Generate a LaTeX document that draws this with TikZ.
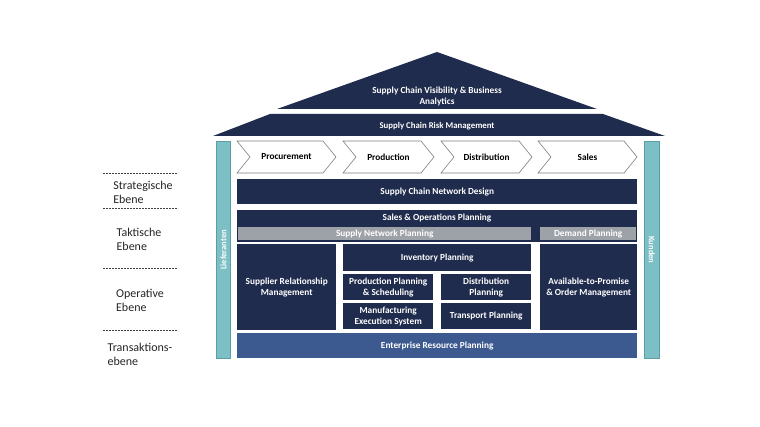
\documentclass[tikz,border=0pt]{standalone}
\usepackage{fontspec}
\setmainfont{Carlito}
\definecolor{navy}{HTML}{202C4D}
\definecolor{erpblue}{HTML}{3C5A8F}
\definecolor{tealfill}{HTML}{7CC0C5}
\definecolor{tealline}{HTML}{5B9EA5}
\definecolor{graybar}{HTML}{9DA1A8}
\definecolor{chevline}{HTML}{7F7F7F}
\definecolor{dashline}{HTML}{404040}
\newcommand\bx[7]{%
  \node[#6, minimum width={#4pt-#2pt}, minimum height={#5pt-#3pt}, anchor=north west] (#1) at (#2,#3) {#7};}
\begin{document}
\begin{tikzpicture}[x=1pt,y=-1pt,
  boxfont/.style={font=\bfseries\fontsize{9.3}{11}\selectfont},
  navybox/.style={fill=navy, text=white, boxfont, align=center, inner sep=0pt},
  erpbox/.style={fill=erpblue, text=white, boxfont, align=center, inner sep=0pt},
  graybox/.style={fill=graybar, text=white, boxfont, align=center, inner sep=0pt},
  pillar/.style={fill=tealfill, draw=tealline, line width=0.8pt, inner sep=0pt},
  pillartext/.style={text=white, font=\bfseries\fontsize{8.5}{10}\selectfont, inner sep=0pt},
  chev/.style={fill=white, draw=chevline, line width=0.6pt},
  chevtext/.style={text=black, boxfont, inner sep=0pt},
  rooftext/.style={text=white, boxfont, align=center, inner sep=0pt},
  level/.style={font=\fontsize{12}{14}\selectfont, align=left, inner sep=0pt, text=black!85},
  sep/.style={draw=dashline, dash pattern=on 2pt off 1pt, line width=0.6pt}]
\useasboundingbox[fill=white] (0,0) rectangle (760,427);
% roof
\fill[navy] (277,109) -- (437,52) -- (597,109) -- cycle;
\node[rooftext] (roof) at (437,96) {Supply Chain Visibility \& Business\\Analytics};
\fill[navy] (213,136) -- (270,114) -- (603,114) -- (665,136) -- cycle;
\node[rooftext, font=\bfseries\fontsize{8.8}{10}\selectfont] (risk) at (437,126) {Supply Chain Risk Management};
% pillars
\bx{lief}{216}{141}{230}{358}{pillar}{}
\bx{kund}{644}{141}{659}{358}{pillar}{}
\node[pillartext, rotate=90] (liefT) at (lief.center) {Lieferanten};
\node[pillartext, rotate=-90] (kundT) at (kund.center) {Kunden};
% chevrons
\draw[chev] (237,141) -- (323,141) -- (336,157) -- (323,173) -- (237,173) -- (250,157) -- cycle;
\node[chevtext] (proc) at (286.5,157) {Procurement};
\draw[chev] (343,141) -- (421,141) -- (434,157) -- (421,173) -- (343,173) -- (356,157) -- cycle;
\node[chevtext] (prod) at (388.5,157) {Production};
\draw[chev] (441,141) -- (519,141) -- (532,157) -- (519,173) -- (441,173) -- (454,157) -- cycle;
\node[chevtext] (dist) at (486.5,157) {Distribution};
\draw[chev] (538,141) -- (624,141) -- (637,157) -- (624,173) -- (538,173) -- (551,157) -- cycle;
\node[chevtext] (sales) at (587.5,157) {Sales};
% planning boxes
\bx{scnd}{237}{179}{637}{204}{navybox}{Supply Chain Network Design}
\bx{sop}{237}{210}{637}{242}{navybox}{}
\node[rooftext] (sopT) at (437,218) {Sales \& Operations Planning};
\bx{snp}{238}{227}{531}{240}{graybox}{Supply Network Planning}
\bx{dp}{540}{227}{636}{240}{graybox}{Demand Planning}
\bx{srm}{237}{244}{336}{330}{navybox}{Supplier Relationship\\Management}
\bx{inv}{343}{244}{531}{271}{navybox}{Inventory Planning}
\bx{pps}{343}{274}{433}{300}{navybox}{Production Planning\\\& Scheduling}
\bx{dpl}{441}{274}{531}{300}{navybox}{Distribution\\Planning}
\bx{mes}{343}{303}{433}{329}{navybox}{Manufacturing\\Execution System}
\bx{tp}{441}{303}{531}{329}{navybox}{Transport Planning}
\bx{atp}{540}{244}{637}{330}{navybox}{Available-to-Promise\\\& Order Management}
\bx{erp}{237}{333}{637}{358}{erpbox}{Enterprise Resource Planning}
% levels
\coordinate (s1a) at (103,173); \coordinate (s1b) at (178,173);
\coordinate (s2a) at (103,208); \coordinate (s2b) at (178,208);
\coordinate (s3a) at (103,268); \coordinate (s3b) at (178,268);
\coordinate (s4a) at (103,330); \coordinate (s4b) at (178,330);
\draw[sep] (s1a) -- (s1b);
\draw[sep] (s2a) -- (s2b);
\draw[sep] (s3a) -- (s3b);
\draw[sep] (s4a) -- (s4b);
\node[level] (strat) at (143,192) {Strategische\\Ebene};
\node[level] (takt) at (139,239) {Taktische\\Ebene};
\node[level] (oper) at (140,300) {Operative\\Ebene};
\node[level] (trans) at (140,354) {Transaktions-\\ebene};
\end{tikzpicture}
\end{document}
